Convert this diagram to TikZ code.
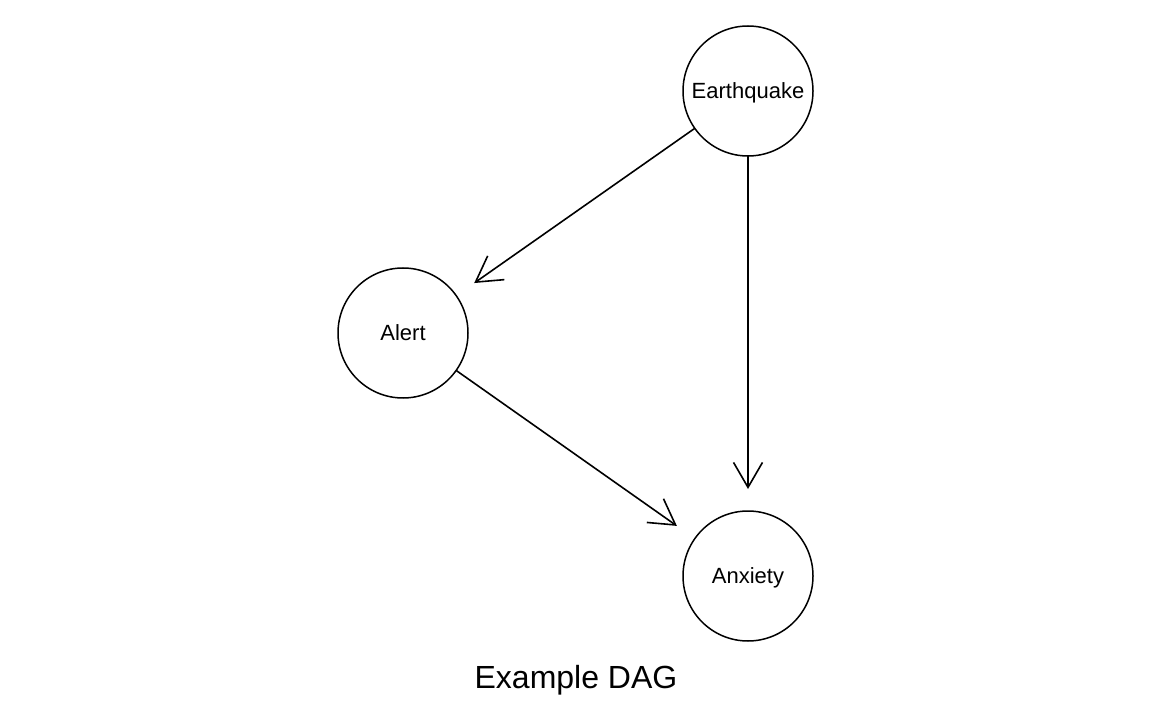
\documentclass[tikz,border=0pt]{standalone}
\usepackage{fontspec}
\setmainfont{Liberation Sans}
\usetikzlibrary{arrows.meta}
\begin{document}
\begin{tikzpicture}[x=1pt,y=-1pt,
  var/.style={circle,draw,line width=1.5pt,minimum size=130pt,inner sep=0pt,outer sep=0pt,text height=15.5pt,text depth=0pt,font=\fontsize{22}{26}\selectfont},
  edge/.style={line width=1.6pt,-{Straight Barb[length=25pt,width=29pt,line width=1.6pt]},shorten >=22pt}]
\useasboundingbox (0,0) rectangle (1152,711);
\node[var] (eq) at (748,91) {Earthquake};
\node[var] (al) at (403,333) {Alert};
\node[var] (an) at (748,576) {Anxiety};
\node[font=\fontsize{32}{38}\selectfont] (title) at (576,680) {Example DAG};
\draw[edge] (eq) -- (al);
\draw[edge] (eq) -- (an);
\draw[edge] (al) -- (an);
\end{tikzpicture}
\end{document}
